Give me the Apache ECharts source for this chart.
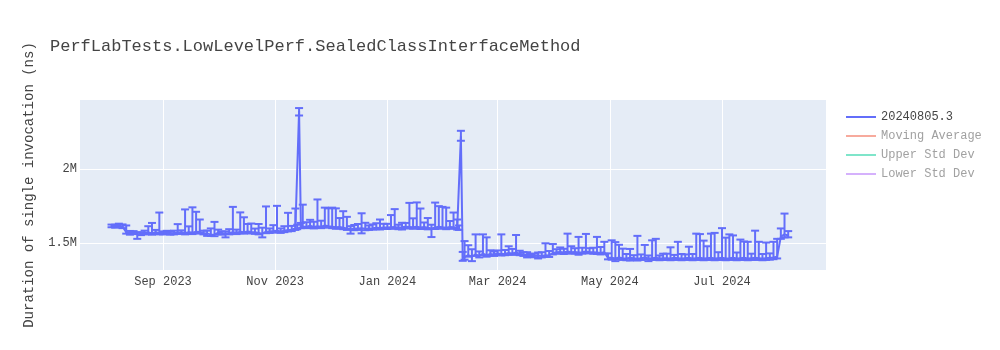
<!DOCTYPE html>
<html><head><meta charset="utf-8">
<script src="https://cdn.jsdelivr.net/npm/echarts@6/dist/echarts.min.js"></script>
<style>html,body{margin:0;padding:0;background:#fff}#c{width:1000px;height:350px}</style>
</head><body><div id="c"></div>
<script>
const chartTitle = 'PerfLabTests.LowLevelPerf.SealedClassInterfaceMethod';
const yTitle = 'Duration of single invocation (ns)';
const seriesName = '20240805.3';
const hiddenNames = ['Moving Average', 'Upper Std Dev', 'Lower Std Dev'];
const xTickDates = ['2023-09-01','2023-11-01','2024-01-01','2024-03-01','2024-05-01','2024-07-01'];
const xTickLabels = ['Sep 2023','Nov 2023','Jan 2024','Mar 2024','May 2024','Jul 2024'];
const yTickValues = [1500000, 2000000];
const yTickLabels = ['1.5M', '2M'];
const UNIT = 1000; // values below are in thousands of ns

const dates = [
 '2023-08-04','2023-08-06','2023-08-08','2023-08-10','2023-08-12','2023-08-14','2023-08-16','2023-08-18','2023-08-20','2023-08-22','2023-08-24','2023-08-26','2023-08-28','2023-08-30',
 '2023-09-01','2023-09-03','2023-09-05','2023-09-07','2023-09-09','2023-09-11','2023-09-13','2023-09-15','2023-09-17','2023-09-19','2023-09-21','2023-09-23','2023-09-25','2023-09-27','2023-09-29',
 '2023-10-01','2023-10-03','2023-10-05','2023-10-07','2023-10-09','2023-10-11','2023-10-13','2023-10-15','2023-10-17','2023-10-19','2023-10-21','2023-10-23','2023-10-25','2023-10-27','2023-10-29','2023-10-31',
 '2023-11-02','2023-11-04','2023-11-06','2023-11-08','2023-11-10','2023-11-12','2023-11-13','2023-11-14','2023-11-15','2023-11-16','2023-11-18','2023-11-20','2023-11-22','2023-11-24','2023-11-26','2023-11-28','2023-11-30',
 '2023-12-02','2023-12-04','2023-12-06','2023-12-08','2023-12-10','2023-12-12','2023-12-14','2023-12-16','2023-12-18','2023-12-20','2023-12-22','2023-12-24','2023-12-26','2023-12-28','2023-12-30',
 '2024-01-01','2024-01-03','2024-01-05','2024-01-07','2024-01-09','2024-01-11','2024-01-13','2024-01-15','2024-01-17','2024-01-19','2024-01-21','2024-01-23','2024-01-25','2024-01-27','2024-01-29','2024-01-31',
 '2024-02-02','2024-02-04','2024-02-06','2024-02-08','2024-02-09','2024-02-10','2024-02-11','2024-02-12','2024-02-14','2024-02-16','2024-02-18','2024-02-20','2024-02-22','2024-02-24','2024-02-26','2024-02-28',
 '2024-03-01','2024-03-03','2024-03-05','2024-03-07','2024-03-09','2024-03-11','2024-03-13','2024-03-15','2024-03-17','2024-03-19','2024-03-21','2024-03-23','2024-03-25','2024-03-27','2024-03-29','2024-03-31',
 '2024-04-02','2024-04-04','2024-04-06','2024-04-08','2024-04-10','2024-04-12','2024-04-14','2024-04-16','2024-04-18','2024-04-20','2024-04-22','2024-04-24','2024-04-26','2024-04-28','2024-04-30',
 '2024-05-02','2024-05-04','2024-05-06','2024-05-08','2024-05-10','2024-05-12','2024-05-14','2024-05-16','2024-05-18','2024-05-20','2024-05-22','2024-05-24','2024-05-26','2024-05-28','2024-05-30',
 '2024-06-01','2024-06-03','2024-06-05','2024-06-07','2024-06-09','2024-06-11','2024-06-13','2024-06-15','2024-06-17','2024-06-19','2024-06-21','2024-06-23','2024-06-25','2024-06-27','2024-06-29',
 '2024-07-01','2024-07-03','2024-07-05','2024-07-07','2024-07-09','2024-07-11','2024-07-13','2024-07-15','2024-07-17','2024-07-19','2024-07-21','2024-07-23','2024-07-25','2024-07-27','2024-07-29','2024-07-31',
 '2024-08-02','2024-08-04','2024-08-06'
];
const values = [
 1618,1615,1620,1612,1575,1568,1572,1560,1565,1570,1572,1568,1575,1570,
 1570,1572,1568,1570,1573,1575,1570,1574,1572,1578,1576,1570,1565,1560,1558,
 1572,1568,1565,1570,1575,1572,1578,1575,1580,1576,1574,1570,1565,1578,1580,1582,
 1585,1580,1585,1590,1592,1600,1605,2390,1612,1615,1612,1618,1610,1615,1612,1620,1615,
 1612,1608,1610,1605,1600,1595,1598,1600,1602,1598,1600,1602,1605,1603,1606,
 1606,1608,1610,1605,1608,1612,1610,1608,1612,1606,1610,1604,1600,1606,1612,1608,
 1605,1610,1608,1602,1600,2220,1402,1405,1420,1410,1425,1415,1430,1420,1428,1425,
 1432,1428,1430,1435,1432,1438,1430,1425,1420,1418,1416,1418,1415,1420,1418,1435,
 1440,1442,1438,1445,1440,1442,1438,1440,1445,1442,1440,1438,1435,1440,1402,
 1402,1398,1405,1400,1398,1402,1400,1396,1400,1404,1398,1400,1402,1398,1400,
 1400,1398,1402,1400,1398,1400,1402,1398,1400,1402,1398,1400,1402,1398,1400,
 1402,1398,1400,1403,1398,1400,1402,1398,1400,1402,1400,1398,1400,1402,1405,1410,
 1545,1560,1552
];
const errorPlus = [
 8,10,12,15,45,15,10,12,10,15,43,69,15,137,
 10,12,10,15,56,12,158,40,170,134,84,15,20,40,86,
 20,12,15,25,170,20,130,100,50,57,25,60,40,170,20,40,
 167,20,30,115,25,134,20,20,25,145,30,40,35,180,40,120,120,
 128,127,60,111,78,20,25,30,100,40,20,25,30,57,25,
 25,82,120,20,30,25,162,60,163,128,30,66,25,168,138,137,
 135,40,99,58,20,37,40,110,67,50,135,30,130,120,25,20,
 20,132,25,45,30,118,20,15,20,10,15,20,25,80,30,60,
 20,30,25,120,40,25,105,30,118,25,30,105,40,70,30,
 118,110,85,64,30,60,20,154,25,85,20,120,128,20,30,
 30,75,20,110,30,25,75,30,165,160,120,80,163,172,40,
 200,140,160,150,40,125,110,112,30,183,110,30,105,30,105,120,
 55,140,30
];
const errorMinus = [
 10,10,10,10,10,10,10,30,10,10,10,10,10,10,
 10,10,10,10,10,10,10,10,10,10,10,10,15,10,10,
 10,10,25,10,10,10,10,10,10,10,10,10,25,10,10,10,
 10,10,10,10,10,10,10,30,10,10,10,10,10,10,10,10,10,
 10,10,10,10,10,30,10,10,35,10,10,10,10,10,10,
 10,10,10,10,15,10,10,10,10,10,10,10,58,10,10,10,
 10,10,10,10,10,30,20,15,10,30,10,10,10,10,10,10,
 10,10,10,10,10,10,10,10,15,10,10,20,10,10,10,10,
 10,10,10,10,10,10,15,10,10,10,10,10,10,10,10,
 12,18,12,12,12,18,12,12,12,12,18,12,12,12,12,
 12,12,12,12,12,12,12,12,12,12,12,12,12,12,12,
 12,12,12,12,12,12,12,12,12,12,12,12,12,12,12,12,
 15,20,12
];

const FONT = '"Liberation Mono", "Courier New", monospace';
const BLUE = '#636efa';
const hiddenColors = ['#f7aa9d', '#7fe5ca', '#d5b1fc'];
const DAY = 86400000;
const toTs = d => new Date(d + 'T00:00:00').getTime();
const xTickTs = xTickDates.map(toTs);

const lineData = dates.map((d, i) => [toTs(d), values[i] * UNIT]);
const errData = dates.map((d, i) => [toTs(d), (values[i] - errorMinus[i]) * UNIT, (values[i] + errorPlus[i]) * UNIT]);

const chart = echarts.init(document.getElementById('c'), null, {renderer: 'canvas'});
chart.setOption({
  animation: false,
  backgroundColor: '#fff',
  title: {
    text: chartTitle, left: 45, top: 33,
    textStyle: {fontFamily: FONT, fontSize: 17, fontWeight: 'normal', color: '#444'}
  },
  grid: {left: 80, right: 174, top: 100, bottom: 80, show: true, backgroundColor: '#E5ECF6', borderWidth: 0},
  legend: {
    orient: 'vertical', left: 841, top: 106, itemWidth: 30, itemHeight: 2, itemGap: 7, icon: 'rect',
    textStyle: {fontFamily: FONT, fontSize: 12, color: '#444'},
    data: [{name: seriesName}].concat(hiddenNames.map((n, i) => ({
      name: n, itemStyle: {color: hiddenColors[i]}, textStyle: {color: '#a1a1a1'}
    })))
  },
  xAxis: {
    type: 'value',
    min: toTs('2023-09-01') - 45.14 * DAY,
    max: toTs('2024-07-01') + 56.56 * DAY,
    axisLine: {show: false},
    axisTick: {show: false, customValues: xTickTs},
    splitLine: {show: true, lineStyle: {color: '#fff', width: 1}},
    axisLabel: {
      customValues: xTickTs, margin: 6, color: '#444', fontFamily: FONT, fontSize: 12,
      formatter: v => { let k = 0, best = Infinity; xTickTs.forEach((t, i) => { if (Math.abs(t - v) < best) { best = Math.abs(t - v); k = i; } }); return xTickLabels[k]; }
    }
  },
  yAxis: {
    type: 'value', min: 1320300, max: 2464300,
    name: yTitle, nameLocation: 'middle', nameRotate: 90, nameGap: 44,
    nameTextStyle: {fontFamily: FONT, fontSize: 14, color: '#444'},
    axisLine: {show: false},
    axisTick: {show: false, customValues: yTickValues},
    splitLine: {show: true, lineStyle: {color: '#fff', width: 1}},
    axisLabel: {
      customValues: yTickValues, margin: 3, color: '#444', fontFamily: FONT, fontSize: 12,
      formatter: v => { const i = yTickValues.indexOf(v); return i >= 0 ? yTickLabels[i] : ''; }
    }
  },
  series: [
    {
      name: seriesName, type: 'custom', data: errData, encode: {x: 0, y: [1, 2]}, clip: true, silent: true,
      renderItem: function (params, api) {
        const x = api.value(0), lo = api.value(1), hi = api.value(2);
        const pLo = api.coord([x, lo]), pHi = api.coord([x, hi]);
        const h = 4, st = {stroke: BLUE, lineWidth: 2, fill: null};
        return {type: 'group', children: [
          {type: 'line', shape: {x1: pLo[0], y1: pLo[1], x2: pHi[0], y2: pHi[1]}, style: st},
          {type: 'line', shape: {x1: pHi[0] - h, y1: pHi[1], x2: pHi[0] + h, y2: pHi[1]}, style: st},
          {type: 'line', shape: {x1: pLo[0] - h, y1: pLo[1], x2: pLo[0] + h, y2: pLo[1]}, style: st}
        ]};
      },
      itemStyle: {color: BLUE}, z: 2
    },
    {name: seriesName, type: 'line', data: lineData, showSymbol: false, symbol: 'none',
     lineStyle: {color: BLUE, width: 2}, itemStyle: {color: BLUE}, z: 3},
  ].concat(hiddenNames.map((n, i) => ({
    name: n, type: 'line', data: [], symbol: 'none', lineStyle: {color: hiddenColors[i], width: 2}, itemStyle: {color: hiddenColors[i]}
  })))
});
</script></body></html>
